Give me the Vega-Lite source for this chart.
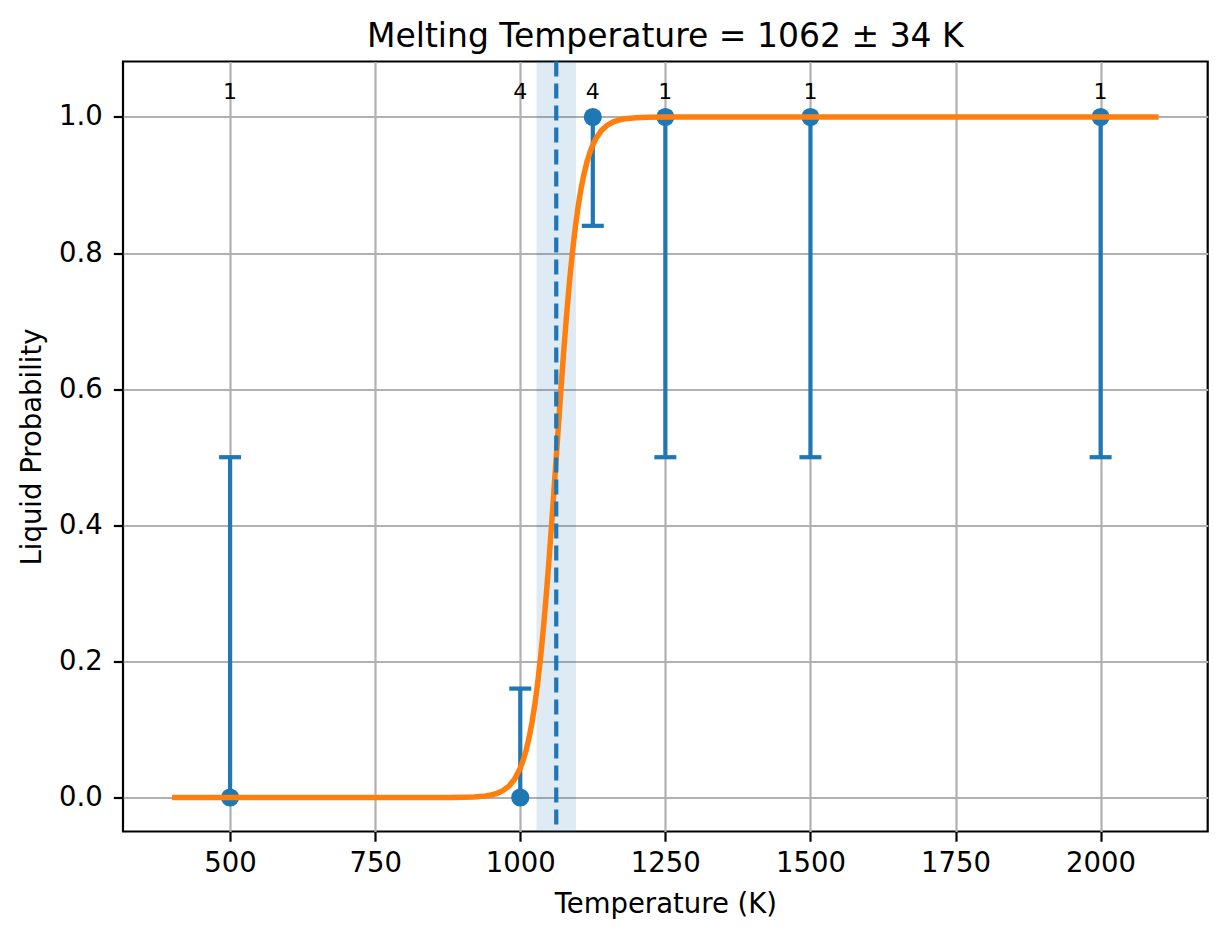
{
  "$schema": "https://vega.github.io/schema/vega-lite/v6.json",
  "width": 1084.7,
  "height": 770,
  "autosize": "none",
  "padding": {"left": 123, "top": 61.5, "right": 19.3, "bottom": 107.5},
  "background": "white",
  "title": {
    "text": "Melting Temperature = 1062 ± 34 K",
    "font": "DejaVu Sans",
    "fontSize": 33,
    "fontWeight": "normal",
    "color": "black",
    "anchor": "middle",
    "baseline": "alphabetic",
    "offset": -21
  },
  "config": {
    "view": {"stroke": "black", "strokeWidth": 2.2},
    "axis": {
      "domain": false,
      "grid": true,
      "gridColor": "#b0b0b0",
      "gridWidth": 2.2,
      "tickColor": "black",
      "tickWidth": 2.2,
      "tickSize": 9.7,
      "labelFont": "DejaVu Sans",
      "labelFontSize": 27.5,
      "labelColor": "black",
      "titleFont": "DejaVu Sans",
      "titleFontSize": 27.5,
      "titleFontWeight": "normal",
      "titleColor": "black"
    },
    "axisX": {"labelPadding": 8, "titlePadding": 14},
    "axisY": {"labelPadding": 11, "titlePadding": 12}
  },
  "datasets": {
    "fit": [{"Tm": 1062, "err": 34, "lo": 1028, "hi": 1096}],
    "pts": [
      {"T": 500, "p": 0, "lo": 0, "hi": 0.5, "n": "1"},
      {"T": 1000, "p": 0, "lo": 0, "hi": 0.16, "n": "4"},
      {"T": 1125, "p": 1, "lo": 0.84, "hi": 1, "n": "4"},
      {"T": 1250, "p": 1, "lo": 0.5, "hi": 1, "n": "1"},
      {"T": 1500, "p": 1, "lo": 0.5, "hi": 1, "n": "1"},
      {"T": 2000, "p": 1, "lo": 0.5, "hi": 1, "n": "1"}
    ],
    "curve": [
      {"T": 400, "p": 0},
      {"T": 800, "p": 0},
      {"T": 850, "p": 0.00003},
      {"T": 880, "p": 0.0001},
      {"T": 900, "p": 0.0003},
      {"T": 920, "p": 0.0008},
      {"T": 940, "p": 0.0022},
      {"T": 950, "p": 0.0037},
      {"T": 960, "p": 0.0061},
      {"T": 970, "p": 0.0100},
      {"T": 980, "p": 0.0163},
      {"T": 990, "p": 0.0266},
      {"T": 1000, "p": 0.0431},
      {"T": 1005, "p": 0.0547},
      {"T": 1010, "p": 0.0691},
      {"T": 1015, "p": 0.0871},
      {"T": 1020, "p": 0.1091},
      {"T": 1025, "p": 0.1359},
      {"T": 1030, "p": 0.1680},
      {"T": 1035, "p": 0.2059},
      {"T": 1040, "p": 0.2497},
      {"T": 1045, "p": 0.2994},
      {"T": 1050, "p": 0.3543},
      {"T": 1055, "p": 0.4134},
      {"T": 1060, "p": 0.4750},
      {"T": 1062, "p": 0.5},
      {"T": 1065, "p": 0.5374},
      {"T": 1070, "p": 0.5987},
      {"T": 1075, "p": 0.6570},
      {"T": 1080, "p": 0.7109},
      {"T": 1085, "p": 0.7595},
      {"T": 1090, "p": 0.8022},
      {"T": 1095, "p": 0.8389},
      {"T": 1100, "p": 0.8699},
      {"T": 1105, "p": 0.8957},
      {"T": 1110, "p": 0.9168},
      {"T": 1115, "p": 0.9341},
      {"T": 1120, "p": 0.9478},
      {"T": 1125, "p": 0.9589},
      {"T": 1130, "p": 0.9677},
      {"T": 1140, "p": 0.9802},
      {"T": 1150, "p": 0.9879},
      {"T": 1160, "p": 0.9926},
      {"T": 1170, "p": 0.9955},
      {"T": 1180, "p": 0.9973},
      {"T": 1200, "p": 0.9990},
      {"T": 1220, "p": 0.9996},
      {"T": 1250, "p": 0.9999},
      {"T": 1300, "p": 1},
      {"T": 2100, "p": 1}
    ]
  },
  "layer": [
    {
      "data": {"name": "fit"},
      "mark": {"type": "rect", "color": "#1f77b4", "opacity": 0.15},
      "encoding": {
        "x": {"field": "lo", "type": "quantitative", "title": "Temperature (K)",
              "scale": {"domain": [315.5, 2184.5], "nice": false, "zero": false},
              "axis": {"values": [500, 750, 1000, 1250, 1500, 1750, 2000], "format": "d"}},
        "x2": {"field": "hi"}
      }
    },
    {
      "data": {"name": "pts"},
      "mark": {"type": "rule", "color": "#1f77b4", "strokeWidth": 4.2},
      "encoding": {
        "x": {"field": "T", "type": "quantitative", "title": "Temperature (K)"},
        "y": {"field": "lo", "type": "quantitative", "title": "Liquid Probability",
              "scale": {"domain": [-0.05, 1.0815], "nice": false, "zero": false},
              "axis": {"values": [0, 0.2, 0.4, 0.6, 0.8, 1.0], "format": ".1f"}},
        "y2": {"field": "hi"}
      }
    },
    {
      "data": {"name": "pts"},
      "transform": [{"filter": "datum.lo != datum.p"}],
      "mark": {"type": "tick", "orient": "horizontal", "color": "#1f77b4", "size": 22, "thickness": 4.2, "opacity": 1},
      "encoding": {
        "x": {"field": "T", "type": "quantitative", "title": "Temperature (K)"},
        "y": {"field": "lo", "type": "quantitative", "title": "Liquid Probability"}
      }
    },
    {
      "data": {"name": "pts"},
      "transform": [{"filter": "datum.hi != datum.p"}],
      "mark": {"type": "tick", "orient": "horizontal", "color": "#1f77b4", "size": 22, "thickness": 4.2, "opacity": 1},
      "encoding": {
        "x": {"field": "T", "type": "quantitative", "title": "Temperature (K)"},
        "y": {"field": "hi", "type": "quantitative", "title": "Liquid Probability"}
      }
    },
    {
      "data": {"name": "pts"},
      "mark": {"type": "circle", "color": "#1f77b4", "size": 330, "opacity": 1},
      "encoding": {
        "x": {"field": "T", "type": "quantitative", "title": "Temperature (K)"},
        "y": {"field": "p", "type": "quantitative", "title": "Liquid Probability"}
      }
    },
    {
      "data": {"name": "curve"},
      "mark": {"type": "line", "color": "#ff7f0e", "strokeWidth": 5.5},
      "encoding": {
        "x": {"field": "T", "type": "quantitative", "title": "Temperature (K)"},
        "y": {"field": "p", "type": "quantitative", "title": "Liquid Probability"}
      }
    },
    {
      "data": {"name": "fit"},
      "mark": {"type": "rule", "color": "#1f77b4", "strokeWidth": 4.2, "strokeDash": [15, 7]},
      "encoding": {
        "x": {"field": "Tm", "type": "quantitative", "title": "Temperature (K)"}
      }
    },
    {
      "data": {"name": "pts"},
      "mark": {"type": "text", "font": "DejaVu Sans", "fontSize": 22, "color": "black", "align": "center", "baseline": "alphabetic"},
      "encoding": {
        "x": {"field": "T", "type": "quantitative", "title": "Temperature (K)"},
        "y": {"datum": 1.026, "type": "quantitative"},
        "text": {"field": "n"}
      }
    }
  ]
}
